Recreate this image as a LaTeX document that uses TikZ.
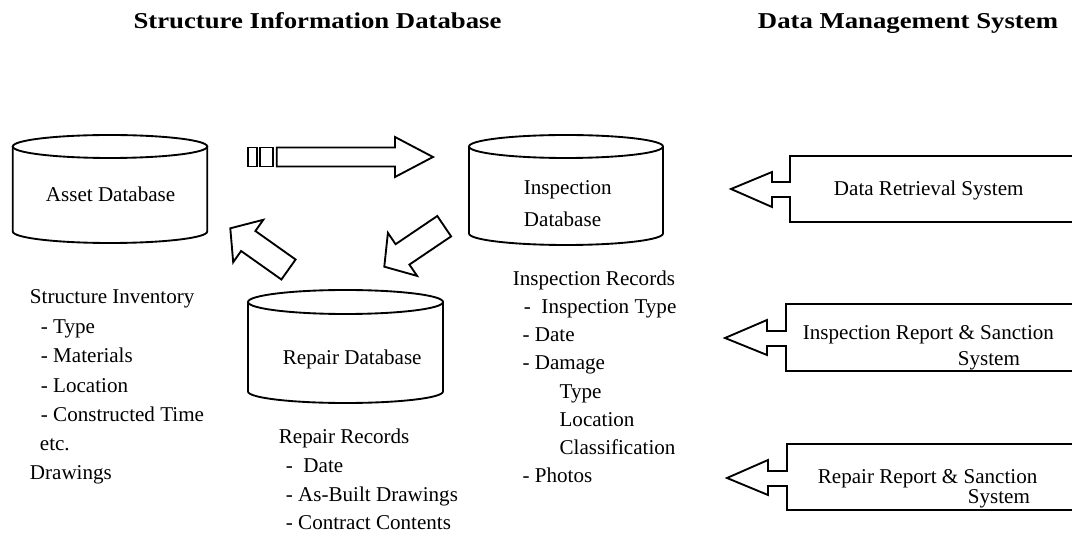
\documentclass[tikz,border=0pt]{standalone}
\usepackage{fontspec}
\setmainfont{Liberation Serif}
\usepackage{graphicx}
\tikzset{every picture/.style={line width=1.4pt}}
\tikzset{txt/.style={inner sep=0pt, align=left, font=\fontsize{15.8}{22}\selectfont}}
\tikzset{ttl/.style={inner sep=0pt, font=\fontsize{17}{20}\selectfont\bfseries}}

\begin{document}
\begin{tikzpicture}[x=0.75pt,y=0.75pt,yscale=-1,xscale=1]
\useasboundingbox (0,0) rectangle (1072,534);

%Shape: Can (asset)
\draw   (110,146.5) ellipse [x radius=97.25, y radius=11.5] ;
\draw   (12.75,146.5) -- (12.75,231.5) arc [start angle=180, end angle=0, x radius=97.25, y radius=11.5] -- (207.25,146.5) ;
%Shape: Can (inspection)
\draw   (566,146.5) ellipse [x radius=97, y radius=11.5] ;
\draw   (469,146.5) -- (469,233.5) arc [start angle=180, end angle=0, x radius=97, y radius=11.5] -- (663,146.5) ;
%Shape: Can (repair)
\draw   (345.5,302) ellipse [x radius=97.5, y radius=12] ;
\draw   (248,302) -- (248,391.5) arc [start angle=180, end angle=0, x radius=97.5, y radius=11.5] -- (443,302) ;

%Right Arrow (striped)
\draw   (248.3,147.5) rectangle (256.7,166.5) ;
\draw   (260,147.5) rectangle (273.3,166.5) ;
\draw   (276.7,147.5) -- (395,147.5) -- (395,137) -- (433,157) -- (395,177) -- (395,166.5) -- (276.7,166.5) -- cycle ;
%Up-Left Arrow
\draw   (230.3,228.3) -- (263.3,219.8) -- (255.4,231) -- (295.6,259.5) -- (281.4,279.5) -- (241.1,251) -- (233.2,262.2) -- cycle ;
%Down-Left Arrow
\draw   (384.3,266.7) -- (387.9,232.9) -- (395.6,244.2) -- (437.3,216) -- (451.1,236.4) -- (409.4,264.6) -- (417.1,275.9) -- cycle ;

%Shape: Left Arrow Callout
\draw   (1080,156) -- (790,156) -- (790,182) -- (772,182) -- (772,172) -- (731,189) -- (772,207) -- (772,197) -- (790,197) -- (790,222) -- (1080,222) ;
%Shape: Left Arrow Callout
\draw   (1080,304) -- (786,304) -- (786,331) -- (767,331) -- (767,320) -- (725,338) -- (767,355) -- (767,346) -- (786,346) -- (786,371) -- (1080,371) ;
%Shape: Left Arrow Callout
\draw   (1080,444) -- (787,444) -- (787,471) -- (768,471) -- (768,460) -- (727,478) -- (768,495) -- (768,486) -- (787,486) -- (787,510) -- (1080,510) ;

% Text Node
\draw (317.5,29) node (sidtitle) [anchor=base][ttl] {\scalebox{1.18}[1]{Structure Information Database}};
% Text Node
\draw (908,29) node (dmstitle) [anchor=base][ttl] {\scalebox{1.18}[1]{Data Management System}};
% Text Node
\draw (45,202) node (asset) [anchor=base west][txt] {Asset Database};
% Text Node (base = last line)
\draw (523,227) node (inspection) [anchor=base west][txt] [font=\fontsize{15.8}{24}\selectfont] {Inspection\\Database};
% Text Node
\draw (282,365) node (repair) [anchor=base west][txt] {Repair Database};
% Text Node
\draw (29,480) node (inventory) [anchor=base west][txt] {Structure Inventory\\
\hspace*{8.25pt}- Type\\
\hspace*{8.25pt}- Materials\\
\hspace*{8.25pt}- Location\\
\hspace*{8.25pt}- Constructed Time\\
\hspace*{7.5pt}etc.\\
Drawings};
% Text Node
\draw (512,483) node (insrecords) [anchor=base west][txt] [font=\fontsize{15.8}{21.2}\selectfont] {Inspection Records\\
\hspace*{8.25pt}-\ \ Inspection Type\\
\hspace*{7.25pt}- Date\\
\hspace*{7.25pt}- Damage\\
\hspace*{35pt}Type\\
\hspace*{35pt}Location\\
\hspace*{35pt}Classification\\
\hspace*{7.25pt}- Photos};
% Text Node
\draw (278,530) node (reprecords) [anchor=base west][txt] [font=\fontsize{15.8}{21.5}\selectfont] {Repair Records\\
\hspace*{5.25pt}-\ \ Date\\
\hspace*{5.25pt}- As-Built Drawings\\
\hspace*{5.25pt}- Contract Contents};
% Text Node
\draw (833,196) node (retrieval) [anchor=base west][txt] {Data Retrieval System};
% Text Node
\draw (802,366) node (insreport) [anchor=base west][txt] [font=\fontsize{15.8}{19.5}\selectfont] {Inspection Report \& Sanction\\
\hspace*{116.25pt}System};
% Text Node
\draw (817,504) node (repreport) [anchor=base west][txt] [font=\fontsize{15.8}{15.5}\selectfont] {Repair Report \& Sanction\\
\hspace*{112.5pt}System};

\end{tikzpicture}
\end{document}
